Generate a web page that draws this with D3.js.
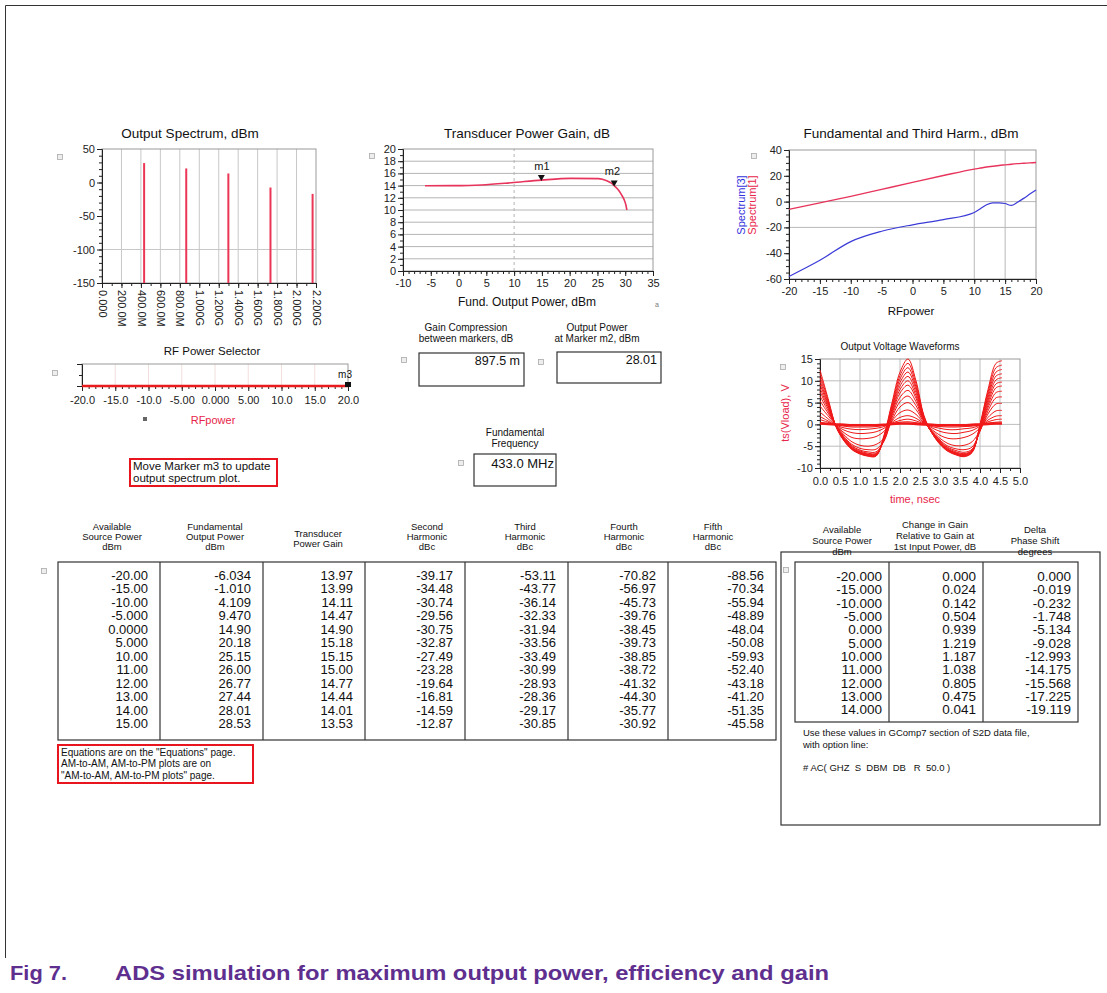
<!DOCTYPE html>
<meta charset="utf-8">
<style>
body { margin: 0; background: #fff; }
svg { font-family: "Liberation Sans", Arial, sans-serif; }
.tick text { font-size: 11px; fill: #222; }
.tick line { stroke: #222; }
</style>
<body>
<script src="https://d3js.org/d3.v7.min.js"></script>
<script>
// ---------- data ----------
// output spectrum (MHz, dBm)
var specFreq = [433, 866, 1299, 1732, 2165];
var specLevel = [29, 21, 13.5, -7.5, -17];
var specTickHz = [0, 200, 400, 600, 800, 1000, 1200, 1400, 1600, 1800, 2000, 2200];
var specTickLbl = ["0.000", "200.0M", "400.0M", "600.0M", "800.0M", "1.000G", "1.200G", "1.400G", "1.600G", "1.800G", "2.000G", "2.200G"];

// transducer gain vs fund. output power
var gainPout = [-6.034, -1.010, 4.109, 9.470, 14.90, 20.18, 25.15, 26.00, 26.77, 27.44, 28.01, 28.53, 29.0, 29.4, 29.8, 30.1, 30.3];
var gainDb = [13.97, 13.99, 14.11, 14.47, 14.90, 15.18, 15.15, 15.00, 14.77, 14.44, 14.01, 13.53, 13.0, 12.4, 11.7, 10.9, 10.0];
var markers = [{ name: "m1", x: 14.90, y: 14.90, lx: 15, ly: 16.6 }, { name: "m2", x: 28.01, y: 14.01, lx: 27.7, ly: 15.8 }];

// fundamental / third harmonic vs RF power
var rfPower = [-20, -15, -10, -5, 0, 5, 10, 11, 12, 13, 14, 15, 16, 17, 18, 19, 20];
var fundDbm = [-6.0, -1.0, 4.1, 9.5, 14.9, 20.2, 25.2, 26.0, 26.8, 27.4, 28.0, 28.5, 29.0, 29.4, 29.7, 30.0, 30.3];
var thirdDbm = [-58, -45.5, -31, -23, -18, -14, -8.5, -5.5, -2.5, -1.0, -1.0, -1.5, -3.0, -0.5, 2.5, 5.8, 9.0];

// output voltage waveforms (ns, V)
var wfTime = [0, 0.2, 0.4, 0.6, 0.8, 1.0, 1.2, 1.4, 1.6, 1.8, 2.0, 2.2, 2.4, 2.6, 2.8, 3.0, 3.2, 3.4, 3.6, 3.8, 4.0, 4.2, 4.4, 4.55];
var wfVolts = [
  [12.5, 6.0, -0.5, -3.8, -5.8, -6.8, -7.3, -7.3, -2.5, 5.0, 12.0, 15.0, 10.0, 2.0, -2.0, -4.6, -6.2, -7.0, -7.4, -6.5, 0.0, 8.0, 14.0, 14.6],
  [11.7, 5.6, -0.5, -3.7, -5.7, -6.7, -7.2, -7.2, -2.7, 4.5, 11.2, 14.0, 9.3, 1.8, -2.0, -4.5, -6.1, -6.9, -7.3, -6.4, -0.2, 7.4, 13.0, 13.6],
  [10.8, 5.2, -0.5, -3.6, -5.6, -6.6, -7.1, -7.1, -2.9, 4.0, 10.4, 13.0, 8.6, 1.6, -2.0, -4.4, -6.0, -6.8, -7.2, -6.3, -0.4, 6.8, 12.0, 12.6],
  [10.0, 4.8, -0.4, -3.5, -5.5, -6.5, -7.0, -7.0, -3.1, 3.6, 9.6, 12.0, 8.0, 1.4, -1.9, -4.3, -5.9, -6.7, -7.1, -6.2, -0.6, 6.2, 11.1, 11.6],
  [9.2, 4.4, -0.4, -3.4, -5.4, -6.4, -6.9, -6.9, -3.3, 3.2, 8.8, 11.0, 7.3, 1.2, -1.9, -4.2, -5.8, -6.6, -7.0, -6.1, -0.8, 5.6, 10.2, 10.7],
  [8.3, 4.0, -0.3, -3.3, -5.3, -6.3, -6.8, -6.8, -3.5, 2.8, 8.0, 10.0, 6.6, 1.0, -1.8, -4.1, -5.7, -6.5, -6.9, -6.0, -1.0, 5.0, 9.3, 9.7],
  [7.5, 3.6, -0.3, -3.2, -5.1, -6.1, -6.6, -6.6, -3.6, 2.4, 7.2, 9.0, 6.0, 0.9, -1.8, -4.0, -5.5, -6.3, -6.7, -5.9, -1.2, 4.4, 8.4, 8.8],
  [6.5, 3.1, -0.3, -3.0, -4.9, -5.9, -6.3, -6.3, -3.8, 2.0, 6.2, 7.8, 5.2, 0.8, -1.7, -3.8, -5.3, -6.0, -6.4, -5.7, -1.4, 3.8, 7.3, 7.6],
  [5.4, 2.6, -0.2, -2.8, -4.6, -5.5, -5.8, -5.7, -3.8, 1.5, 5.2, 6.5, 4.3, 0.7, -1.6, -3.6, -5.0, -5.6, -5.8, -5.2, -1.6, 3.1, 6.1, 6.3],
  [4.2, 2.0, -0.2, -2.4, -4.0, -4.8, -5.0, -4.6, -3.2, 1.0, 4.0, 5.0, 3.4, 0.5, -1.4, -3.2, -4.4, -4.9, -4.8, -4.0, -1.4, 2.4, 4.7, 4.8],
  [2.8, 1.3, -0.3, -1.9, -3.0, -3.3, -3.2, -2.8, -1.6, 0.8, 2.7, 3.3, 2.3, 0.3, -1.2, -2.5, -3.2, -3.3, -3.0, -2.3, -0.8, 1.6, 3.1, 3.2],
  [1.8, 0.8, -0.3, -1.3, -1.9, -2.1, -2.0, -1.7, -0.9, 0.5, 1.6, 2.0, 1.4, 0.2, -0.8, -1.6, -2.0, -2.1, -1.8, -1.4, -0.4, 1.0, 1.9, 2.0],
  [1.1, 0.5, -0.2, -0.8, -1.1, -1.2, -1.1, -0.9, -0.5, 0.3, 0.9, 1.2, 0.8, 0.1, -0.5, -0.9, -1.2, -1.2, -1.0, -0.8, -0.2, 0.6, 1.1, 1.2],
  [0.5, 0.2, -0.1, -0.4, -0.6, -0.6, -0.6, -0.5, -0.2, 0.2, 0.5, 0.6, 0.4, 0.1, -0.3, -0.5, -0.6, -0.6, -0.5, -0.4, -0.1, 0.3, 0.5, 0.6],
  [0.2, 0.1, 0.0, -0.1, -0.2, -0.2, -0.2, -0.2, -0.1, 0.1, 0.2, 0.2, 0.1, 0.0, -0.1, -0.2, -0.2, -0.2, -0.2, -0.1, 0.0, 0.1, 0.2, 0.2]
];

// main table
var tblHead = [["Available", "Source Power", "dBm"], ["Fundamental", "Output Power", "dBm"], ["Transducer", "Power Gain"],
  ["Second", "Harmonic", "dBc"], ["Third", "Harmonic", "dBc"], ["Fourth", "Harmonic", "dBc"], ["Fifth", "Harmonic", "dBc"]];
var colSrc = ["-20.00", "-15.00", "-10.00", "-5.000", "0.0000", "5.000", "10.00", "11.00", "12.00", "13.00", "14.00", "15.00"];
var colFund = ["-6.034", "-1.010", "4.109", "9.470", "14.90", "20.18", "25.15", "26.00", "26.77", "27.44", "28.01", "28.53"];
var colGain = ["13.97", "13.99", "14.11", "14.47", "14.90", "15.18", "15.15", "15.00", "14.77", "14.44", "14.01", "13.53"];
var colH2 = ["-39.17", "-34.48", "-30.74", "-29.56", "-30.75", "-32.87", "-27.49", "-23.28", "-19.64", "-16.81", "-14.59", "-12.87"];
var colH3 = ["-53.11", "-43.77", "-36.14", "-32.33", "-31.94", "-33.56", "-33.49", "-30.99", "-28.93", "-28.36", "-29.17", "-30.85"];
var colH4 = ["-70.82", "-56.97", "-45.73", "-39.76", "-38.45", "-39.73", "-38.85", "-38.72", "-41.32", "-44.30", "-35.77", "-30.92"];
var colH5 = ["-88.56", "-70.34", "-55.94", "-48.89", "-48.04", "-50.08", "-59.93", "-52.40", "-43.18", "-41.20", "-51.35", "-45.58"];

// AM-AM / AM-PM table
var amHead = [["Available", "Source Power", "dBm"], ["Change in Gain", "Relative to Gain at", "1st Input Power, dB"], ["Delta", "Phase Shift", "degrees"]];
var amSrc = ["-20.000", "-15.000", "-10.000", "-5.000", "0.000", "5.000", "10.000", "11.000", "12.000", "13.000", "14.000"];
var amGain = ["0.000", "0.024", "0.142", "0.504", "0.939", "1.219", "1.187", "1.038", "0.805", "0.475", "0.041"];
var amPhase = ["0.000", "-0.019", "-0.232", "-1.748", "-5.134", "-9.028", "-12.993", "-14.175", "-15.568", "-17.225", "-19.119"];

// ---------- drawing ----------
var W = 1107, H = 993;
var svg = d3.select("body").append("svg").attr("width", W).attr("height", H);
svg.append("rect").attr("width", W).attr("height", H).attr("fill", "#fff");
svg.append("path").attr("d", "M5.5,958V5.5H1107").attr("fill", "none").attr("stroke", "#333");

// plain hyphen for negative tick labels, like the ADS screen
function fmt(spec) {
  var f = spec ? d3.format(spec) : function (d) { return String(d); };
  return function (d) { return f(d).replace("\u2212", "-"); };
}

function txt(x, y, s, size, opt) {
  opt = opt || {};
  return svg.append("text").attr("x", x).attr("y", y).text(s)
    .attr("font-size", size).attr("fill", opt.fill || "#111")
    .attr("text-anchor", opt.anchor || "middle")
    .attr("font-weight", opt.weight || "normal");
}
function icon(x, y) {
  svg.append("rect").attr("x", x - 2.5).attr("y", y - 2.5).attr("width", 5).attr("height", 5)
    .attr("fill", "#eee").attr("stroke", "#aaa").attr("stroke-width", 0.8);
}

// generic ADS style plot frame + axes
function plotBox(x, y, o) {
  var g = svg.append("g");
  var xr = x.range(), yr = y.range();
  if (o.hGrid) g.selectAll(".hg").data(o.hGrid).enter().append("line")
    .attr("x1", xr[0]).attr("x2", xr[1]).attr("y1", function (d) { return y(d); }).attr("y2", function (d) { return y(d); })
    .attr("stroke", o.gridColor || "#bbb").attr("stroke-width", 1);
  if (o.vGrid) g.selectAll(".vg").data(o.vGrid).enter().append("line")
    .attr("y1", yr[0]).attr("y2", yr[1]).attr("x1", function (d) { return x(d); }).attr("x2", function (d) { return x(d); })
    .attr("stroke", o.vGridColor || o.gridColor || "#bbb").attr("stroke-width", 1)
    .attr("stroke-dasharray", o.vDash || null);
  g.append("rect").attr("x", xr[0]).attr("y", yr[1]).attr("width", xr[1] - xr[0]).attr("height", yr[0] - yr[1])
    .attr("fill", "none").attr("stroke", "#9a9a9a");
  // minor ticks
  if (o.xMinor) g.append("g").attr("transform", "translate(0," + yr[0] + ")")
    .call(d3.axisBottom(x).tickValues(o.xMinor).tickSize(3).tickFormat("")).select(".domain").remove();
  if (o.yMinor) g.append("g").attr("transform", "translate(" + xr[0] + ",0)")
    .call(d3.axisLeft(y).tickValues(o.yMinor).tickSize(3).tickFormat("")).select(".domain").remove();
  var ax = g.append("g").attr("transform", "translate(0," + yr[0] + ")")
    .call(d3.axisBottom(x).tickValues(o.xTicks).tickSize(5).tickPadding(3).tickFormat(o.xFmt || fmt()));
  ax.select(".domain").attr("stroke", "#222");
  ax.selectAll("text").attr("font-size", o.xFont || 11);
  var ay = g.append("g").attr("transform", "translate(" + xr[0] + ",0)")
    .call(d3.axisLeft(y).tickValues(o.yTicks || []).tickSize(5).tickPadding(2).tickFormat(o.yFmt || fmt()));
  ay.select(".domain").attr("stroke", "#222");
  ay.selectAll("text").attr("font-size", o.yFont || 11);
  return { g: g, ax: ax, ay: ay };
}

// ---- Output spectrum ----
var sx = d3.scaleLinear().domain([0, 2200]).range([102, 316]);
var sy = d3.scaleLinear().domain([-150, 50]).range([283, 149]);
var sp = plotBox(sx, sy, {
  hGrid: [-100], vGrid: specTickHz.slice(1, -1), gridColor: "#c8c8c8",
  xTicks: specTickHz, xFmt: function (d, i) { return specTickLbl[i]; }, xMinor: d3.range(0, 2201, 100),
  yTicks: [50, 0, -50, -100, -150], yMinor: d3.range(-150, 51, 10), yFont: 11.5
});
sp.ax.selectAll("text").attr("transform", "rotate(90)").attr("x", 7).attr("y", 0).attr("dy", "0.35em")
  .style("text-anchor", "start").attr("font-size", 10);
sp.g.selectAll(".spike").data(specFreq).enter().append("line")
  .attr("x1", function (d) { return sx(d); }).attr("x2", function (d) { return sx(d); })
  .attr("y1", sy(-150)).attr("y2", function (d, i) { return sy(specLevel[i]); })
  .attr("stroke", "#ec3656").attr("stroke-width", 2);
txt(190, 138, "Output Spectrum, dBm", 13.5);
icon(60, 157);

// ---- Transducer power gain ----
var gx = d3.scaleLinear().domain([-10, 35]).range([403, 653]);
var gy = d3.scaleLinear().domain([0, 20]).range([271, 149]);
var gp = plotBox(gx, gy, {
  hGrid: d3.range(2, 20, 2), vGrid: [10], vDash: "3,3", gridColor: "#b4b4b4",
  xTicks: d3.range(-10, 36, 5), xMinor: d3.range(-10, 36, 1),
  yTicks: d3.range(0, 21, 2), yMinor: d3.range(0, 21, 1)
});
gp.g.append("path").datum(gainPout.map(function (d, i) { return [d, gainDb[i]]; }))
  .attr("d", d3.line().x(function (d) { return gx(d[0]); }).y(function (d) { return gy(d[1]); }).curve(d3.curveMonotoneX))
  .attr("fill", "none").attr("stroke", "#e8345c").attr("stroke-width", 1.6);
markers.forEach(function (m) {
  var px = gx(m.x), py = gy(m.y);
  gp.g.append("path").attr("d", "M" + (px - 3.5) + "," + (py - 5) + "h7l-3.5,6z").attr("fill", "#111");
  gp.g.append("text").attr("x", gx(m.lx)).attr("y", gy(m.ly)).attr("text-anchor", "middle")
    .attr("font-size", 11).attr("fill", "#111").text(m.name);
});
txt(527, 138, "Transducer Power Gain, dB", 13.5);
txt(527, 306, "Fund. Output Power, dBm", 12);
icon(372, 156);
txt(657, 307, "a", 7, { fill: "#777" });

// ---- Fundamental and third harmonic ----
var hx = d3.scaleLinear().domain([-20, 20]).range([789, 1036]);
var hy = d3.scaleLinear().domain([-60, 40]).range([279, 150]);
plotBox(hx, hy, {
  hGrid: [0, -20], vGrid: [10, 15], gridColor: "#b8b8b8",
  xTicks: d3.range(-20, 21, 5), xMinor: d3.range(-20, 21, 1),
  yTicks: d3.range(-60, 41, 20), yMinor: d3.range(-60, 41, 5)
});
var hl = d3.line().x(function (d) { return hx(d[0]); }).y(function (d) { return hy(d[1]); }).curve(d3.curveMonotoneX);
svg.append("path").datum(rfPower.map(function (d, i) { return [d, fundDbm[i]]; })).attr("d", hl)
  .attr("fill", "none").attr("stroke", "#e8345c").attr("stroke-width", 1.4);
svg.append("path").datum(rfPower.map(function (d, i) { return [d, thirdDbm[i]]; })).attr("d", hl)
  .attr("fill", "none").attr("stroke", "#3b3bd8").attr("stroke-width", 1.2);
txt(911, 138, "Fundamental and Third Harm., dBm", 13.5);
txt(911, 315, "RFpower", 11.5);
svg.append("text").attr("transform", "translate(745,205) rotate(-90)").attr("text-anchor", "middle")
  .attr("font-size", 11).attr("fill", "#3333dd").text("Spectrum[3]");
svg.append("text").attr("transform", "translate(756,205) rotate(-90)").attr("text-anchor", "middle")
  .attr("font-size", 11).attr("fill", "#e8264a").text("Spectrum[1]");
icon(754, 156);

// ---- RF power selector ----
var rx = d3.scaleLinear().domain([-20, 20]).range([82, 348]);
var ry = d3.scaleLinear().domain([0, 1]).range([386, 364]);
var rp = plotBox(rx, ry, {
  vGrid: d3.range(-15, 20, 5), gridColor: "#f3dede",
  xTicks: d3.range(-20, 21, 5), xMinor: d3.range(-20, 21, 1),
  xFmt: function (d) { return d === 0 ? "0.000" : fmt(Math.abs(d) === 5 ? ".2f" : ".1f")(d); },
  yTicks: [], yMinor: [0.5], xFont: 10.5
});
rp.ax.selectAll("text").attr("dy", "0.95em");
svg.append("line").attr("x1", rx(-20)).attr("x2", rx(20)).attr("y1", ry(0)).attr("y2", ry(0))
  .attr("stroke", "#e81c1c").attr("stroke-width", 2.5);
svg.append("rect").attr("x", rx(20) - 3).attr("y", ry(0) - 4).attr("width", 6).attr("height", 5).attr("fill", "#111");
txt(rx(20) - 3, 378, "m3", 10);
txt(212, 355, "RF Power Selector", 11.5);
txt(213, 424, "RFpower", 11, { fill: "#e8264a" });
icon(55, 373);
svg.append("rect").attr("x", 143).attr("y", 417).attr("width", 4).attr("height", 4).attr("fill", "#666");

// note box
svg.append("rect").attr("x", 130).attr("y", 459).attr("width", 147).attr("height", 27)
  .attr("fill", "none").attr("stroke", "#e8141e").attr("stroke-width", 2);
txt(133, 470, "Move Marker m3 to update", 11.5, { anchor: "start" });
txt(133, 482, "output spectrum plot.", 11.5, { anchor: "start" });

// ---- value boxes ----
function valueBox(cx, lines, bx, by, bw, bh, val, vsize) {
  lines.forEach(function (s, i) { txt(cx, 331 + i * 11, s, 10); });
  svg.append("rect").attr("x", bx).attr("y", by).attr("width", bw).attr("height", bh)
    .attr("fill", "none").attr("stroke", "#333").attr("stroke-width", 1.2);
  txt(bx + bw - 4, by + 12, val, vsize, { anchor: "end" });
}
valueBox(466, ["Gain Compression", "between markers, dB"], 419, 353, 105, 33, "897.5 m", 12.5);
valueBox(597, ["Output Power", "at Marker m2, dBm"], 557, 352, 104, 31, "28.01", 12.5);
icon(404, 360); icon(541, 362);
txt(515, 436, "Fundamental", 10);
txt(515, 447, "Frequency", 10);
svg.append("rect").attr("x", 474).attr("y", 454).attr("width", 82).attr("height", 32)
  .attr("fill", "none").attr("stroke", "#333").attr("stroke-width", 1.2);
txt(554, 468, "433.0 MHz", 13, { anchor: "end" });
icon(461, 463);

// ---- Output voltage waveforms ----
var vx = d3.scaleLinear().domain([0, 5]).range([820, 1020]);
var vy = d3.scaleLinear().domain([-10, 15]).range([468, 359]);
var vp = plotBox(vx, vy, {
  hGrid: [10, 5, 0, -5], vGrid: d3.range(0.5, 5, 0.5), gridColor: "#bdbdbd",
  xTicks: d3.range(0, 5.01, 0.5), xFmt: fmt(".1f"), xMinor: d3.range(0, 5.01, 0.25),
  yTicks: d3.range(-10, 16, 5), yMinor: d3.range(-10, 16, 1), xFont: 10.5, yFont: 10.5
});
vp.ax.selectAll("text").attr("dy", "0.8em");
var wl = d3.line().x(function (d) { return vx(d[0]); }).y(function (d) { return vy(d[1]); }).curve(d3.curveCatmullRom);
svg.append("g").selectAll("path").data(wfVolts).enter().append("path")
  .attr("d", function (v) { return wl(wfTime.map(function (t, i) { return [t, v[i]]; })); })
  .attr("fill", "none").attr("stroke", "#f01818")
  .attr("stroke-width", function (v, i) { return i === wfVolts.length - 1 ? 2.5 : 1; });
txt(900, 350, "Output Voltage Waveforms", 10);
txt(915, 503, "time, nsec", 11, { fill: "#e8264a" });
svg.append("text").attr("transform", "translate(789,413) rotate(-90)").attr("text-anchor", "middle")
  .attr("font-size", 11).attr("fill", "#e8264a").text("ts(Vload), V");
icon(783, 367);

// ---- main table ----
var cols = [colSrc, colFund, colGain, colH2, colH3, colH4, colH5];
var colEdges = [58, 160, 263, 365, 465, 568, 668, 776];
var headX = [112, 215, 318, 427, 525, 624, 713];
svg.append("rect").attr("x", colEdges[0]).attr("y", 562).attr("width", colEdges[7] - colEdges[0]).attr("height", 178)
  .attr("fill", "none").attr("stroke", "#333").attr("stroke-width", 1.2);
colEdges.slice(1, -1).forEach(function (e) {
  svg.append("line").attr("x1", e).attr("x2", e).attr("y1", 562).attr("y2", 740).attr("stroke", "#333").attr("stroke-width", 1.2);
});
tblHead.forEach(function (h, c) {
  var y0 = h.length === 2 ? 537 : 530;
  h.forEach(function (s, i) { txt(headX[c], y0 + i * 10, s, 9.5); });
});
cols.forEach(function (col, c) {
  col.forEach(function (s, r) {
    txt(colEdges[c + 1] - 12, 580 + r * 13.45, s, 13, { anchor: "end" });
  });
});
icon(44, 571);

svg.append("rect").attr("x", 58).attr("y", 745).attr("width", 195).attr("height", 38)
  .attr("fill", "none").attr("stroke", "#e8141e").attr("stroke-width", 2);
txt(61, 756, "Equations are on the \"Equations\" page.", 10, { anchor: "start" });
txt(61, 767, "AM-to-AM, AM-to-PM plots are on", 10, { anchor: "start" });
txt(61, 779, "\"AM-to-AM, AM-to-PM plots\" page.", 10, { anchor: "start" });

// ---- AM/PM table ----
svg.append("rect").attr("x", 781).attr("y", 552).attr("width", 319).attr("height", 273)
  .attr("fill", "none").attr("stroke", "#333").attr("stroke-width", 1.2);
var amEdges = [795, 889, 983, 1078];
var amHeadX = [842, 935, 1035];
amHead.forEach(function (h, c) {
  var y0 = c === 1 ? 528 : 533;
  h.forEach(function (s, i) { txt(amHeadX[c], y0 + i * 11, s, 9.5); });
});
svg.append("rect").attr("x", amEdges[0]).attr("y", 562).attr("width", amEdges[3] - amEdges[0]).attr("height", 160)
  .attr("fill", "none").attr("stroke", "#333").attr("stroke-width", 1.2);
[amEdges[1], amEdges[2]].forEach(function (e) {
  svg.append("line").attr("x1", e).attr("x2", e).attr("y1", 562).attr("y2", 722).attr("stroke", "#333").attr("stroke-width", 1.2);
});
[amSrc, amGain, amPhase].forEach(function (col, c) {
  col.forEach(function (s, r) {
    txt(amEdges[c + 1] - 7, 581 + r * 13.33, s, 13.5, { anchor: "end" });
  });
});
icon(786, 570);
txt(803, 736, "Use these values in GComp7 section of S2D data file,", 9.5, { anchor: "start" });
txt(803, 748, "with option line:", 9.5, { anchor: "start" });
txt(803, 771, "# AC( GHZ  S  DBM  DB   R  50.0 )", 9.5, { anchor: "start" }).attr("xml:space", "preserve");

// ---- caption ----
txt(10, 980, "Fig 7.", 21, { anchor: "start", weight: "bold", fill: "#5e2f8e" })
  .attr("textLength", 57).attr("lengthAdjust", "spacingAndGlyphs");
txt(115, 980, "ADS simulation for maximum output power, efficiency and gain", 21, { anchor: "start", weight: "bold", fill: "#5e2f8e" })
  .attr("textLength", 714).attr("lengthAdjust", "spacingAndGlyphs");
</script>
</body>
